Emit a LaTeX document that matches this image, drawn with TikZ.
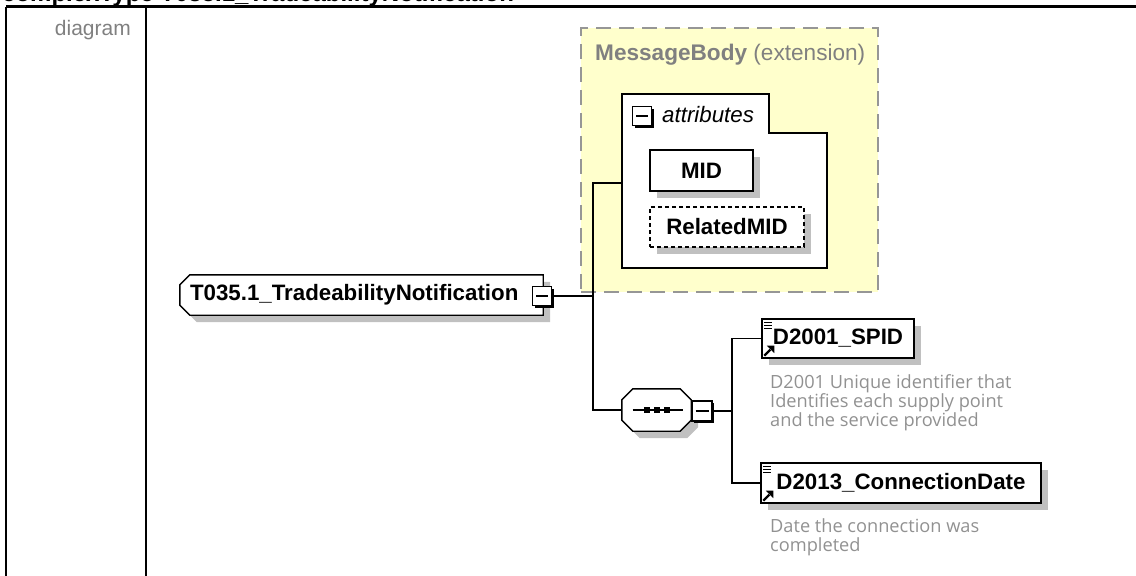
\documentclass[tikz,border=0pt]{standalone}
\usepackage{fontspec}
\setmainfont{Liberation Sans}
\newfontfamily\notefont{Open Sans}
\usetikzlibrary{shadows,backgrounds}

\definecolor{extfill}{RGB}{255,255,204}
\definecolor{extline}{RGB}{150,150,150}
\definecolor{shade}{RGB}{192,192,192}
\definecolor{notegray}{RGB}{145,145,145}
\definecolor{labelgray}{RGB}{128,128,128}

% reference marks in the corner of an element box
\newcommand\refmark[1]{%
	\draw[line width=0.9pt](#1.north west)++(3,4)--++(8,0) ++(-8,3)--++(8,0) ++(-8,3)--++(8,0);
	\draw[line width=2.2pt]([shift={(3,-3)}]#1.south west)--++(6,-6);
	\fill([shift={(13,-13)}]#1.south west)--++(-7.5,0)--++(7.5,7.5)--cycle;
}

\begin{document}
\begin{tikzpicture}[x=1pt,y=-1pt,
			rule/.style={line width=2.2pt, black},
			wire/.style={line width=1.4pt, black},
			shad/.style={drop shadow={shadow xshift=7pt, shadow yshift=-7pt, fill=shade, opacity=1}},
			elem/.style={draw, fill=white, line width=1.4pt, inner sep=0pt, minimum height=39pt,
				font=\bfseries\fontsize{22.3}{25}\selectfont, shad},
			optelem/.style={elem, dash pattern=on 4pt off 3pt},
			tog/.style={draw, fill=white, line width=1.5pt, minimum size=19pt, inner sep=0pt,
				drop shadow={shadow xshift=2.4pt, shadow yshift=-2.4pt, fill=black, opacity=1},
				path picture={\draw[line width=1.4pt]([xshift=3.5pt]path picture bounding box.west)--([xshift=-3.5pt]path picture bounding box.east);}},
			note/.style={font=\notefont\fontsize{18.2}{19}\selectfont, text=notegray, align=left, anchor=north west, inner sep=0pt},
			]
			
			\useasboundingbox (0,0) rectangle (1136,576);
			
			%% ── table frame ────────────────────────────────────────
			\node[anchor=base west, inner sep=0pt, font=\bfseries\fontsize{24}{26}\selectfont](head)at(2,1){complexType T035.1\_TradeabilityNotification};
			\draw[rule](6,6.5)--(1140,6.5);
			\draw[rule](6,6.5)--(6,580);
			\draw[rule](146,6.5)--(146,580);
			\node[anchor=base east, inner sep=0pt, text=labelgray, font=\fontsize{21}{24}\selectfont](diaglbl)at(131,35){diagram};
			
			%% ── extension ──────────────────────────────────────────
			\node[draw=extline, fill=extfill, line width=2pt, dash pattern=on 15pt off 8pt,
				minimum width=297pt, minimum height=264pt, inner sep=0pt](ext)at(729.5,160){};
			\node[anchor=west, inner sep=0pt, text=labelgray, font=\fontsize{22.6}{25}\selectfont](exttitle)at(595,55){\textbf{MessageBody} (extension)};
			
			%% ── connectors ─────────────────────────────────────────
			\coordinate(attrin)at(622,183);
			\coordinate(jroot)at(593,296);
			\coordinate(jseq)at(732,411);
			
			%% ── attributes ─────────────────────────────────────────
			\draw[wire, fill=white](622,94)--(769,94)--(769,133)--(827,133)--(827,268)--(622,268)--cycle;
			\node[tog](togattr)at(642,116){};
			\node[anchor=west, inner sep=0pt, font=\itshape\fontsize{22.3}{25}\selectfont](attrlbl)at(662,115){attributes};
			\node[elem, minimum width=103pt, minimum height=41pt](mid)at(701.5,170.5){MID};
			\node[optelem, minimum width=154pt, minimum height=40pt](relmid)at(727,227){RelatedMID};
			
			%% ── root element ───────────────────────────────────────
			\node[inner sep=0pt, minimum width=363pt, minimum height=40pt, text width=343pt, align=left,
				font=\bfseries\fontsize{22.3}{25}\selectfont](root)at(361.5,295){T035.1\_TradeabilityNotification};
			\begin{pgfonlayer}{background}
				\draw[wire, fill=white, shad]([shift={(10,0)}]root.north west)--(root.north east)--(root.south east)
				--([shift={(10,0)}]root.south west)--([shift={(0,-10)}]root.south west)--([shift={(0,10)}]root.north west)--cycle;
			\end{pgfonlayer}
			\node[tog](togroot)at(542,296){};
			
			%% ── sequence ───────────────────────────────────────────
			\node[inner sep=0pt, minimum width=69pt, minimum height=42pt](seq)at(656.5,410){};
			\draw[wire, fill=white, shad]([shift={(11,0)}]seq.north west)--([shift={(-11,0)}]seq.north east)
			--([shift={(0,11)}]seq.north east)--([shift={(0,-11)}]seq.south east)--([shift={(-11,0)}]seq.south east)
			--([shift={(11,0)}]seq.south west)--([shift={(0,-11)}]seq.south west)--([shift={(0,11)}]seq.north west)--cycle;
			\draw[line width=1.2pt]([shift={(-24,0)}]seq.center)--([shift={(26,0)}]seq.center);
			\foreach \dx in {-10,0,10}
			\fill([shift={(\dx-3,-3)}]seq.center)rectangle++(6,6);
			\node[tog, minimum size=20pt](togseq)at(702,411){};
			
			%% ── children ───────────────────────────────────────────
			\node[elem, minimum width=152pt](spid)at(838,338.5){D2001\_SPID};
			\refmark{spid}
			\node[note](spidnote)at(770,374){D2001 Unique identifier that\\Identifies each supply point\\and the service provided};
			\node[elem, minimum width=280pt, minimum height=40pt](cdate)at(901,483){D2013\_ConnectionDate};
			\refmark{cdate}
			\node[note](cdatenote)at(770,518){Date the connection was\\completed};
			
			\draw[wire](togroot.east)--(jroot);
			\draw[wire](attrin)-|(jroot)|-(seq.west);
			\draw[wire](togseq.east)--(jseq);
			\draw[wire](spid.west)-|(jseq)|-(cdate.west);
			
\end{tikzpicture}
\end{document}
